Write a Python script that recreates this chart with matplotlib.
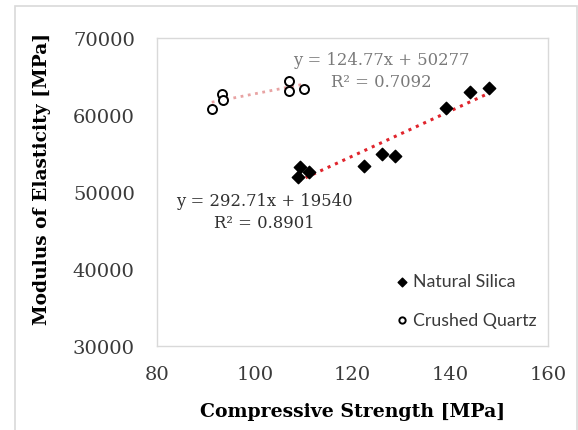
import numpy as np
import matplotlib
matplotlib.use('Agg')
import matplotlib.pyplot as plt
from matplotlib.patches import Rectangle

# data
silica_x = [109.3, 108.9, 111.1, 122.4, 126.0, 128.7, 139.1, 144.0, 147.9]
silica_y = [53200, 51900, 52650, 53400, 54950, 54650, 60900, 63000, 63500]
quartz_x = [91.2, 93.2, 93.6, 107.0, 107.0, 110.1]
quartz_y = [60800, 62700, 62000, 64450, 63150, 63400]

# trendline coefficients shown on the chart
silica_fit = (292.71, 19540, 0.8901)
quartz_fit = (124.77, 50277, 0.7092)

plt.rcParams['font.family'] = ['DejaVu Serif']

fig = plt.figure(figsize=(5.78, 4.31), dpi=100)
ax = fig.add_axes([157/578, 1 - 347/431, 391/578, 308/431])

# trendlines over each data range
xs = np.array([min(silica_x), max(silica_x)])
ax.plot(xs, silica_fit[0]*xs + silica_fit[1], linestyle=':', color='#e0242c', lw=2.2, zorder=2)
xq = np.array([min(quartz_x), max(quartz_x)])
ax.plot(xq, quartz_fit[0]*xq + quartz_fit[1], linestyle=':', color='#e8a3a3', lw=2.0, zorder=2)

ax.scatter(silica_x, silica_y, marker='D', s=40, color='black', label='Natural Silica', zorder=3)
ax.scatter(quartz_x, quartz_y, marker='o', s=42, facecolors='white', edgecolors='black',
           linewidths=1.4, label='Crushed Quartz', zorder=3)

ax.text(125.8, 65780, 'y = %.2fx + %d\nR² = %.4f' % quartz_fit, ha='center', va='center',
        fontsize=11.8, color='#7a7a7a', linespacing=1.35)
ax.text(101.9, 47470, 'y = %.2fx + %d\nR² = %.4f' % silica_fit, ha='center', va='center',
        fontsize=11.8, color='#303030', linespacing=1.35)

ax.set_xlim(80, 160)
ax.set_ylim(30000, 70000)
ax.set_xticks([80, 100, 120, 140, 160])
ax.set_yticks([30000, 40000, 50000, 60000, 70000])
ax.tick_params(length=0, labelsize=14, labelcolor='#3a3a3a')
ax.tick_params(axis='x', pad=14)
ax.tick_params(axis='y', pad=16)
for s in ax.spines.values():
    s.set_color('#d9d9d9')
    s.set_linewidth(1)

ax.set_xlabel('Compressive Strength [MPa]', fontsize=13.6, fontweight='bold')
ax.xaxis.set_label_coords(0.499, -0.211)
ax.xaxis.label.set_va('center')
ax.set_ylabel('Modulus of Elasticity [MPa]', fontsize=13.4, fontweight='bold')
ax.yaxis.set_label_coords((42 - 157)/391, 0.545)
ax.yaxis.label.set_va('center')

leg = ax.legend(loc='lower right', bbox_to_anchor=(1.012, 0.008), frameon=False,
                prop={'family': 'Lato', 'size': 12.8}, handletextpad=0.1,
                handlelength=1.0, labelspacing=1.25, markerscale=0.7)
for t in leg.get_texts():
    t.set_color('#3a3a3a')

# outer chart border
fig.patches.append(Rectangle((15/578, -0.1), 562/578, 1.1 - 7/431, transform=fig.transFigure,
                             fill=False, edgecolor='#d9d9d9', lw=1.2, figure=fig))

fig.savefig('out.png', dpi=100)
